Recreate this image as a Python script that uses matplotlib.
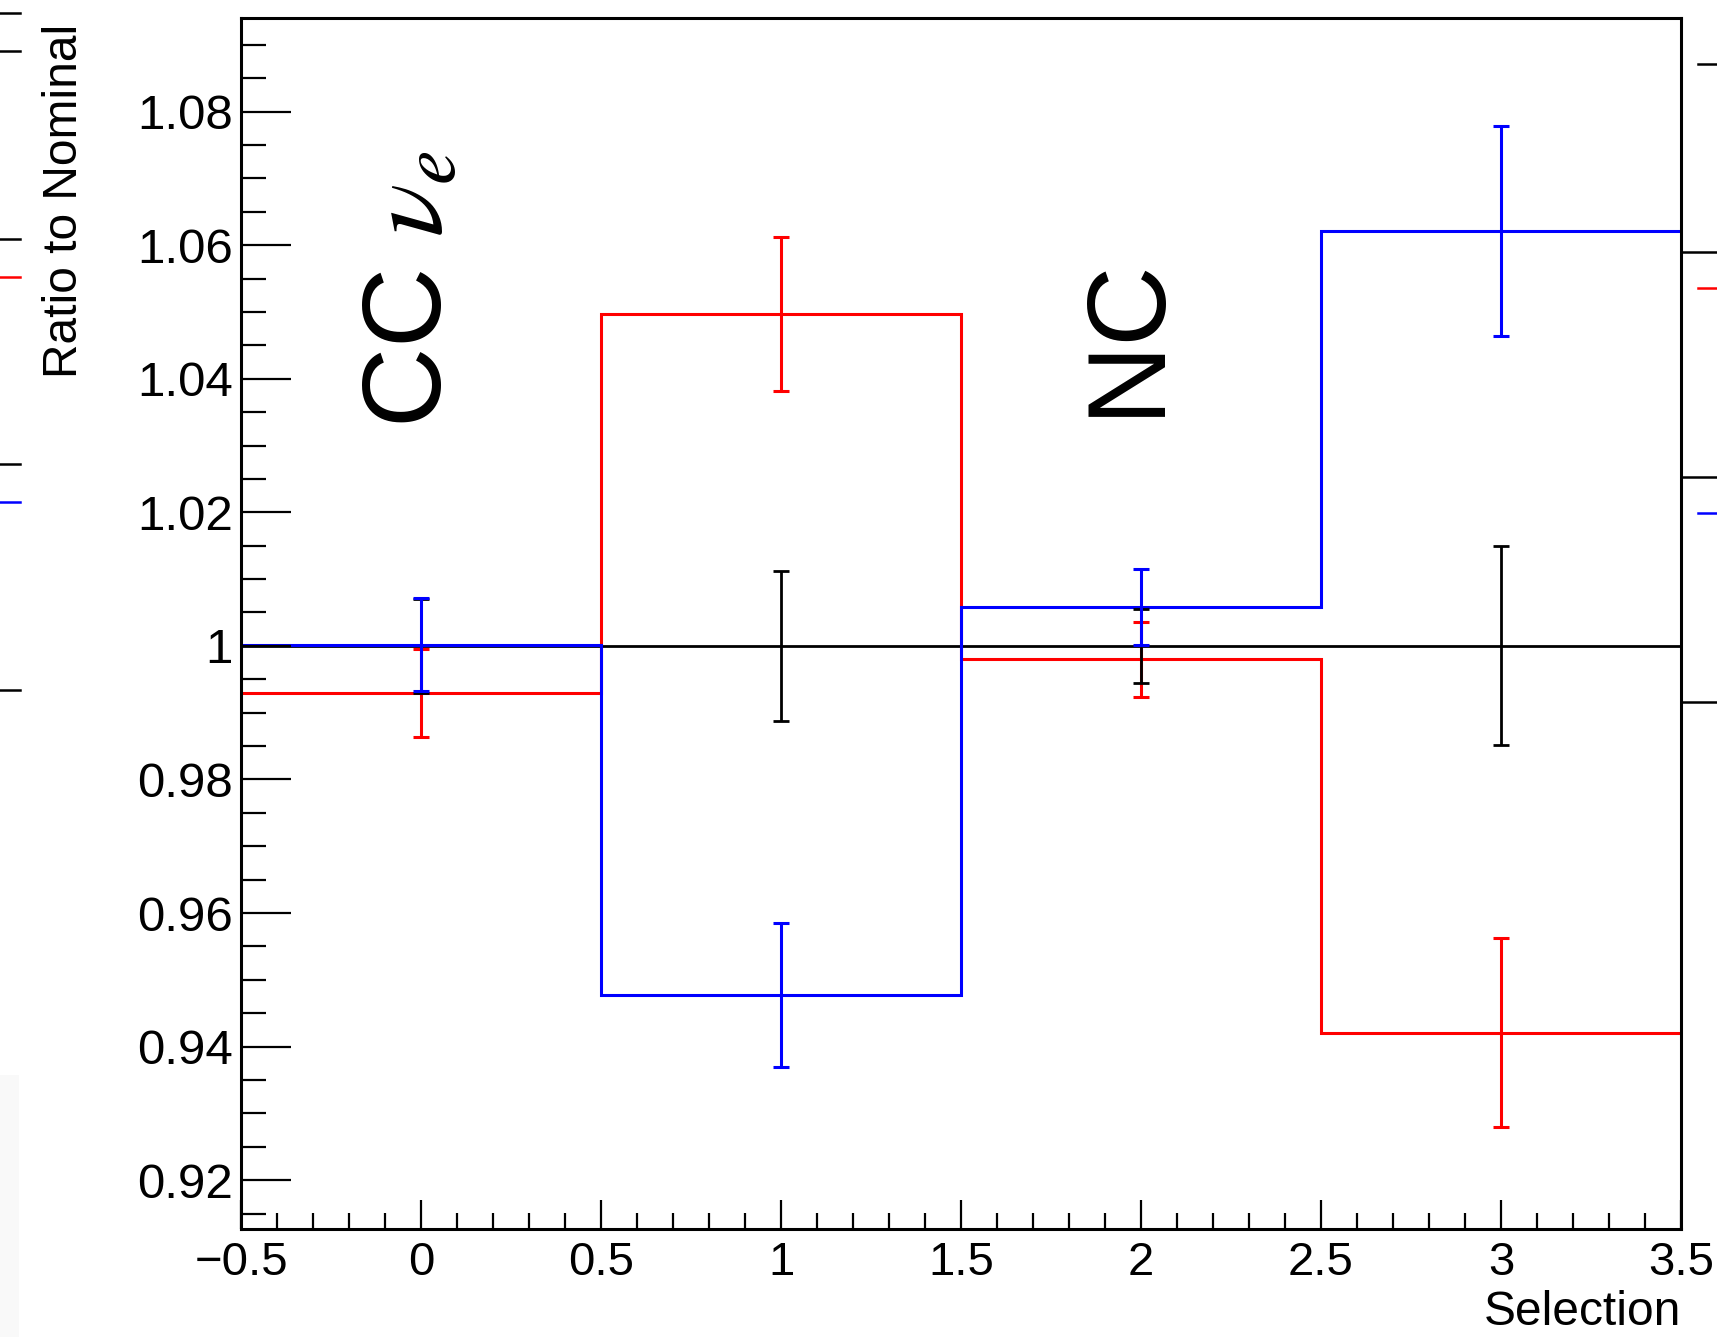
import numpy as np
import matplotlib.pyplot as plt
from matplotlib.lines import Line2D
from matplotlib.patches import Rectangle
from matplotlib.ticker import MultipleLocator

plt.rcParams['font.family'] = ['Liberation Sans', 'DejaVu Sans']
plt.rcParams['mathtext.fontset'] = 'stix'

# selection bins
edges = [-0.5, 0.5, 1.5, 2.5, 3.5]
centers = [0, 1, 2, 3]

# ratio to nominal per selection
nominal = [1.0, 1.0, 1.0, 1.0]
nominal_err = [0.0070, 0.0112, 0.0055, 0.0149]
red_vals = [0.9930, 1.0497, 0.9980, 0.9421]
red_err = [0.0066, 0.0115, 0.0056, 0.0142]
blue_vals = [1.0002, 0.9477, 1.0058, 1.0621]
blue_err = [0.0069, 0.0108, 0.0057, 0.0157]

labels = [(0.058, 1.0326, r"CC $\nu_e$"), (2.043, 1.0344, "NC")]


def draw(ax, vals, errs, color, lw):
    ax.stairs(vals, edges, baseline=None, color=color, lw=lw)
    ax.errorbar(centers, vals, yerr=errs, fmt='none', ecolor=color,
                elinewidth=lw, capsize=6, capthick=lw)


def main():
    fig = plt.figure(figsize=(17.17, 13.37), dpi=100)
    ax = fig.add_axes([0.1404, 0.0808, 0.8386, 0.9057])

    draw(ax, red_vals, red_err, '#ff0000', 2.2)
    draw(ax, nominal, nominal_err, 'black', 2.0)
    draw(ax, blue_vals, blue_err, '#0000ff', 2.2)

    ax.set_xlim(-0.5, 3.5)
    ax.set_ylim(0.9127, 1.0940)

    ax.xaxis.set_major_locator(MultipleLocator(0.5))
    ax.xaxis.set_minor_locator(MultipleLocator(0.1))
    ax.yaxis.set_major_locator(MultipleLocator(0.02))
    ax.yaxis.set_minor_locator(MultipleLocator(0.005))
    ax.xaxis.set_major_formatter(plt.FuncFormatter(lambda v, p: f"{v:g}".replace('-', '\u2212')))
    ax.yaxis.set_major_formatter(plt.FuncFormatter(lambda v, p: f"{v:g}"))

    ax.tick_params(axis='both', which='both', direction='in', width=1.6,
                   top=False, right=False)
    ax.tick_params(axis='y', which='major', length=36, pad=6, labelsize=35.5)
    ax.tick_params(axis='y', which='minor', length=18)
    ax.tick_params(axis='x', which='major', length=21, pad=9, labelsize=34)
    ax.tick_params(axis='x', which='minor', length=11.5)
    for s in ax.spines.values():
        s.set_linewidth(2.2)

    ax.set_xlabel("Selection", fontsize=34.5, ha='right')
    ax.xaxis.set_label_coords(1.0, -0.050)
    ax.set_ylabel("Ratio to Nominal", fontsize=34.5, ha='right')
    ax.yaxis.set_label_coords(-0.107, 0.995)

    for x, y, txt in labels:
        ax.text(x, y, txt, rotation=90, rotation_mode='anchor', ha='left',
                va='baseline', fontsize=80)

    # fragments of neighbouring panels at the image edges
    W, H = 1717.0, 1337.0
    frag = [(0, 20, 13, 'black'), (0, 20, 51, 'black'), (0, 20, 239, 'black'),
            (0, 20, 277, 'red'), (0, 20, 464, 'black'), (0, 20, 502, 'blue'),
            (0, 20, 690, 'black'),
            (1682, 1717, 252, 'black'), (1682, 1717, 477, 'black'),
            (1682, 1717, 702, 'black'),
            (1698, 1717, 64, 'black'), (1698, 1717, 288, 'red'),
            (1698, 1717, 513, 'blue')]
    for x0, x1, y, c in frag:
        fig.add_artist(Line2D([x0 / W, x1 / W], [1 - y / H, 1 - y / H],
                              transform=fig.transFigure, color=c, lw=1.8))
    fig.add_artist(Rectangle((0, 0), 19 / W, 1 - 1075 / H, transform=fig.transFigure,
                             color='#f9f9f9', lw=0))

    fig.savefig("out.png", dpi=100)


if __name__ == "__main__":
    main()
